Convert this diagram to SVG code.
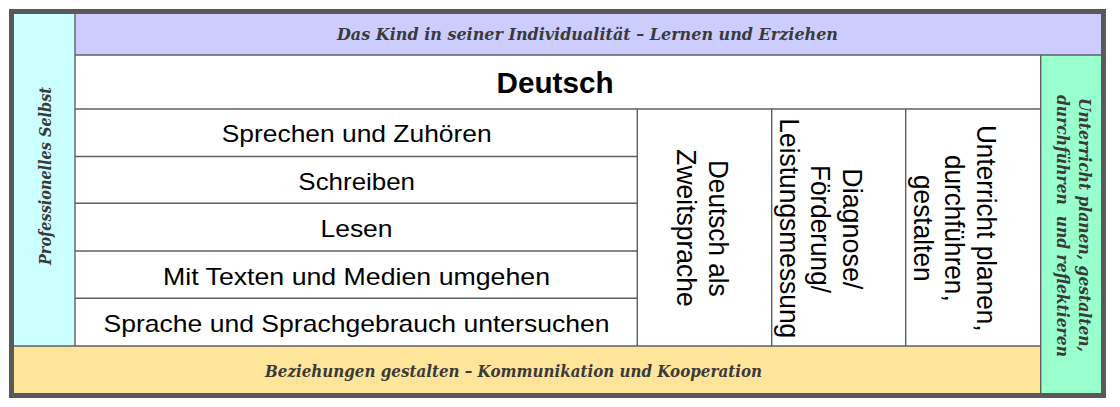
<svg xmlns="http://www.w3.org/2000/svg" width="1120" height="407" viewBox="0 0 1120 407">
  <style>
    .band { font-family: "DejaVu Serif", "Liberation Serif", serif; font-style: italic; font-weight: bold; font-size: 16.5px; fill: #3a3a3a; text-anchor: middle; white-space: pre; }
    .cell { font-family: "Liberation Sans", Arial, sans-serif; font-size: 24px; fill: #000; text-anchor: middle; }
    .vcell { font-family: "Liberation Sans", Arial, sans-serif; font-size: 27px; fill: #000; text-anchor: middle; }
    .title { font-family: "Liberation Sans", Arial, sans-serif; font-size: 30px; font-weight: bold; fill: #000; text-anchor: middle; }
    .grid { stroke: #5f5f5f; stroke-width: 1.4; fill: none; }
  </style>
  <rect width="1120" height="407" fill="#ffffff"/>

  <g id="frame">
    <rect x="11.5" y="11.5" width="1092" height="384" fill="#ffffff" stroke="#595959" stroke-width="5"/>
  </g>

  <g id="professionelles-selbst">
    <rect x="14" y="14" width="61" height="332" fill="#ccffff"/>
    <text class="band" transform="translate(51,176) rotate(-90)" textLength="178" lengthAdjust="spacingAndGlyphs">Professionelles Selbst</text>
  </g>

  <g id="das-kind">
    <rect x="75" y="14" width="1026" height="41" fill="#ccccff"/>
    <text class="band" x="587.5" y="40" textLength="501" lengthAdjust="spacingAndGlyphs">Das Kind in seiner Individualität – Lernen und Erziehen</text>
  </g>

  <g id="unterricht-reflektieren">
    <rect x="1040.7" y="55" width="60.3" height="338" fill="#99ffcc"/>
    <text class="band" transform="translate(1079,225) rotate(90)" textLength="254" lengthAdjust="spacingAndGlyphs">Unterricht planen, gestalten,</text>
    <text class="band" transform="translate(1056.5,226) rotate(90)" textLength="262" lengthAdjust="spacingAndGlyphs">durchführen  und reflektieren</text>
  </g>

  <g id="beziehungen">
    <rect x="14" y="346" width="1026.7" height="47" fill="#ffe599"/>
    <text class="band" x="513.5" y="376.5" textLength="497" lengthAdjust="spacingAndGlyphs">Beziehungen gestalten – Kommunikation und Kooperation</text>
  </g>

  <g id="deutsch">
    <text class="title" x="555" y="93" textLength="117" lengthAdjust="spacingAndGlyphs">Deutsch</text>
  </g>

  <g id="sprechen"><text class="cell" x="356.7" y="141.7" textLength="270" lengthAdjust="spacingAndGlyphs">Sprechen und Zuhören</text></g>
  <g id="schreiben"><text class="cell" x="356.7" y="190" textLength="116.7" lengthAdjust="spacingAndGlyphs">Schreiben</text></g>
  <g id="lesen"><text class="cell" x="356.5" y="237" textLength="72" lengthAdjust="spacingAndGlyphs">Lesen</text></g>
  <g id="medien"><text class="cell" x="356.5" y="284.5" textLength="387" lengthAdjust="spacingAndGlyphs">Mit Texten und Medien umgehen</text></g>
  <g id="sprachgebrauch"><text class="cell" x="356.5" y="331.5" textLength="506" lengthAdjust="spacingAndGlyphs">Sprache und Sprachgebrauch untersuchen</text></g>

  <g id="daz">
    <text class="vcell" transform="translate(708.5,228.3) rotate(90)" textLength="136.7" lengthAdjust="spacingAndGlyphs">Deutsch als</text>
    <text class="vcell" transform="translate(677,228) rotate(90)" textLength="157.3" lengthAdjust="spacingAndGlyphs">Zweitsprache</text>
  </g>

  <g id="diagnose">
    <text class="vcell" transform="translate(842.5,228.8) rotate(90)" textLength="121" lengthAdjust="spacingAndGlyphs">Diagnose/</text>
    <text class="vcell" transform="translate(811,229) rotate(90)" textLength="128" lengthAdjust="spacingAndGlyphs">Förderung/</text>
    <text class="vcell" transform="translate(779.5,228.3) rotate(90)" textLength="220" lengthAdjust="spacingAndGlyphs">Leistungsmessung</text>
  </g>

  <g id="unterricht">
    <text class="vcell" transform="translate(976.5,228.3) rotate(90)" textLength="206.7" lengthAdjust="spacingAndGlyphs">Unterricht planen,</text>
    <text class="vcell" transform="translate(945,228.3) rotate(90)" textLength="146.7" lengthAdjust="spacingAndGlyphs">durchführen,</text>
    <text class="vcell" transform="translate(913.5,228.3) rotate(90)" textLength="106.7" lengthAdjust="spacingAndGlyphs">gestalten</text>
  </g>

  <g id="connectors" class="grid">
    <line x1="75" y1="14" x2="75" y2="346"/>
    <line x1="75" y1="55" x2="1101" y2="55"/>
    <line x1="75" y1="109" x2="1040.7" y2="109"/>
    <line x1="1040.7" y1="55" x2="1040.7" y2="393"/>
    <line x1="14" y1="346" x2="1040.7" y2="346"/>
    <line x1="75" y1="156.5" x2="637.3" y2="156.5"/>
    <line x1="75" y1="203.3" x2="637.3" y2="203.3"/>
    <line x1="75" y1="251" x2="637.3" y2="251"/>
    <line x1="75" y1="298.3" x2="637.3" y2="298.3"/>
    <line x1="637.3" y1="109" x2="637.3" y2="346"/>
    <line x1="771.7" y1="109" x2="771.7" y2="346"/>
    <line x1="905.7" y1="109" x2="905.7" y2="346"/>
  </g>
</svg>
